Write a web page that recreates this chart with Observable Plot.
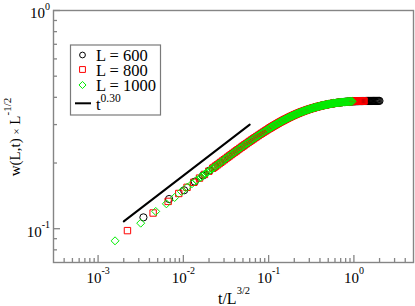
<!DOCTYPE html>
<html><head><meta charset="utf-8">
<script src="https://cdn.jsdelivr.net/npm/d3@7"></script>
<script src="https://cdn.jsdelivr.net/npm/@observablehq/plot@0.6"></script>
<style>body{margin:0;background:#fff}</style>
</head><body><div id="chart"></div><script>
// ---------------- data ----------------
const sizes = [600, 800, 1000];
const seriesLabels = ["L = 600", "L = 800", "L = 1000"];

// early (well separated) points of each system size: t/L^{3/2} and w(L,t) L^{-1/2}
const early600X = [0.003402, 0.006804, 0.010206, 0.013608, 0.01701, 0.02041, 0.02381, 0.02722, 0.03062, 0.03402];
const early600Y = [0.1127, 0.1368, 0.15, 0.1643, 0.1753, 0.1849, 0.1933, 0.2009, 0.2079, 0.2143];
const early800X = [0.00221, 0.00442, 0.00663, 0.00884, 0.01105, 0.01326, 0.01547, 0.01768, 0.01989, 0.0221];
const early800Y = [0.098, 0.118, 0.1334, 0.145, 0.1547, 0.1632, 0.1706, 0.1773, 0.1835, 0.1892];
const early1000X = [0.001581, 0.003162, 0.004743, 0.006325, 0.007906, 0.009487, 0.011068, 0.012649, 0.01423, 0.015811];
const early1000Y = [0.088, 0.106, 0.12, 0.13, 0.139, 0.1481, 0.1548, 0.1609, 0.1665, 0.1717];

// dense part: all sizes lie on one collapsed band (read along the band)
const collapseX = [
  0.016596, 0.017378, 0.018197, 0.019055, 0.019953, 0.020893, 0.021878, 0.022909, 0.023988, 0.025119,
  0.026303, 0.027542, 0.02884, 0.0302, 0.031623, 0.033113, 0.034674, 0.036308, 0.038019, 0.039811,
  0.041687, 0.043652, 0.045709, 0.047863, 0.050119, 0.052481, 0.054954, 0.057544, 0.060256, 0.063096,
  0.066069, 0.069183, 0.072444, 0.075858, 0.079433, 0.083176, 0.087096, 0.091201, 0.095499,
  0.1, 0.10233, 0.10471, 0.10715, 0.10965, 0.1122, 0.11482, 0.11749, 0.12023, 0.12303,
  0.12589, 0.12882, 0.13183, 0.1349, 0.13804, 0.14125, 0.14454, 0.14791, 0.15136, 0.15488,
  0.15849, 0.16218, 0.16596, 0.16982, 0.17378, 0.17783, 0.18197, 0.18621, 0.19055, 0.19498,
  0.19953, 0.20417, 0.20893, 0.2138, 0.21878, 0.22387, 0.22909, 0.23442, 0.23988, 0.24547,
  0.25119, 0.25704, 0.26303, 0.26915, 0.27542, 0.28184, 0.2884, 0.29512, 0.302, 0.30903,
  0.31623, 0.32359, 0.33113, 0.33884, 0.34674, 0.35481, 0.36308, 0.37154, 0.38019, 0.38905,
  0.39811, 0.40738, 0.41687, 0.42658, 0.43652, 0.44668, 0.45709, 0.46774, 0.47863, 0.48978,
  0.50119, 0.51286, 0.52481, 0.53703, 0.54954, 0.56234, 0.57544, 0.58884, 0.60256, 0.6166,
  0.63096, 0.64565, 0.66069, 0.67608, 0.69183, 0.70795, 0.72444, 0.74131, 0.75858, 0.77625,
  0.79433, 0.81283, 0.83176, 0.85114, 0.87096, 0.89125, 0.91201, 0.93325, 0.95499, 0.97724,
  1, 1.0233, 1.0471, 1.0715, 1.0965, 1.122, 1.1482, 1.1749, 1.2023, 1.2303,
  1.2589, 1.2882, 1.3183, 1.349, 1.3804, 1.4125, 1.4454, 1.4791, 1.5136, 1.5488,
  1.5849, 1.6218, 1.6596, 1.6982, 1.7378, 1.7783, 1.8197, 1.8621, 1.9055, 1.9498,
  1.9953
];
const collapseY = [
  0.1741, 0.17644, 0.17881, 0.18122, 0.18365, 0.18612, 0.18862, 0.19116, 0.19373, 0.19633,
  0.19897, 0.20164, 0.20435, 0.2071, 0.20988, 0.21271, 0.21556, 0.21842, 0.22132, 0.22423,
  0.22718, 0.23015, 0.23314, 0.23617, 0.23922, 0.24229, 0.2454, 0.24852, 0.25166, 0.25481,
  0.25797, 0.26115, 0.26433, 0.26752, 0.27072, 0.27393, 0.27714, 0.28037, 0.2836,
  0.28683, 0.28844, 0.29005, 0.29165, 0.29325, 0.29485, 0.29643, 0.29801, 0.29959, 0.30115,
  0.30271, 0.30426, 0.30581, 0.30733, 0.30886, 0.31038, 0.31189, 0.3134, 0.31489, 0.31637,
  0.31785, 0.31932, 0.32077, 0.32221, 0.32365, 0.32508, 0.3265, 0.3279, 0.32928, 0.33066,
  0.33201, 0.33335, 0.33467, 0.33597, 0.33726, 0.33853, 0.33978, 0.34102, 0.34224, 0.34344,
  0.34463, 0.3458, 0.34694, 0.34807, 0.34918, 0.35027, 0.35134, 0.35239, 0.35342, 0.35443,
  0.35542, 0.3564, 0.35736, 0.3583, 0.35923, 0.36014, 0.36104, 0.36191, 0.36278, 0.36363,
  0.36446, 0.36528, 0.36607, 0.36685, 0.36762, 0.36836, 0.36909, 0.3698, 0.3705, 0.37118,
  0.37184, 0.37248, 0.37311, 0.37371, 0.3743, 0.37487, 0.37542, 0.37595, 0.37647, 0.37697,
  0.37746, 0.37793, 0.37838, 0.37882, 0.37924, 0.37964, 0.38002, 0.38039, 0.38074, 0.38107,
  0.38139, 0.38169, 0.38197, 0.38223, 0.38248, 0.38271, 0.38292, 0.38312, 0.38329, 0.38345,
  0.38359, 0.38372, 0.38385, 0.38397, 0.38408, 0.38419, 0.38429, 0.38439, 0.38448, 0.38457,
  0.38465, 0.38473, 0.3848, 0.38487, 0.38493, 0.38498, 0.38503, 0.38508, 0.38512, 0.38515,
  0.38518, 0.3852, 0.38522, 0.38524, 0.38525, 0.38525, 0.38525, 0.38525, 0.38525, 0.38525,
  0.38525
];
// extent along the band covered by each size (first and last t/L^{3/2})
const collapseFrom = [0.036308, 0.022909, 0.016596];
const collapseTo = [1.9953, 1.3183, 0.95499];

// reference power law t^0.30
const fitX = [0.002, 0.06];
const fitY = [0.108, 0.3];
const fitLabel = "t";
const fitExponent = "0.30";

// axis ticks
const majorX = [1e-3, 1e-2, 1e-1, 1];
const majorY = [0.1, 1];

// ---------------- styling ----------------
const serif = "'Liberation Serif', 'Times New Roman', serif";
const axisGray = "#858585";
const seriesStyle = [
  {symbol: "circle", color: "#000000", d3sym: d3.symbolCircle, legendSize: 26},
  {symbol: "square", color: "#ff0000", d3sym: d3.symbolSquare, legendSize: 34},
  {symbol: "diamond2", color: "#00ee00", d3sym: d3.symbolDiamond2, legendSize: 32}
];

if (collapseX.length !== collapseY.length) throw new Error("collapse length mismatch " + collapseX.length + " " + collapseY.length);

const earlyX = [early600X, early800X, early1000X];
const earlyY = [early600Y, early800Y, early1000Y];
const seriesRows = sizes.map((L, i) => {
  const rows = earlyX[i].map((x, j) => ({x, y: earlyY[i][j], L}));
  collapseX.forEach((x, j) => {
    if (x >= collapseFrom[i] * 0.999 && x <= collapseTo[i] * 1.001) rows.push({x, y: collapseY[j], L});
  });
  return rows;
});
const fitRows = fitX.map((x, i) => ({x, y: fitY[i]}));

const minorX = d3.range(-4, 1).flatMap(e => d3.range(2, 10).map(m => m * Math.pow(10, e))).filter(v => v > 3.05e-4 && v < 4.9);
const minorY = d3.range(-2, 0).flatMap(e => d3.range(2, 10).map(m => m * Math.pow(10, e))).filter(v => v > 0.0705 && v < 0.99);

const width = 415, height = 306;
const margin = {top: 10, right: 2, bottom: 44, left: 53};

const expFmt = d => "10^" + Math.round(Math.log10(d));

const svg = Plot.plot({
  width, height,
  marginTop: margin.top, marginRight: margin.right, marginBottom: margin.bottom, marginLeft: margin.left,
  style: {fontFamily: serif, fontSize: "15px", background: "#fff", color: "#000", overflow: "visible"},
  x: {type: "log", domain: [3e-4, 5]},
  y: {type: "log", domain: [0.07, 1]},
  marks: [
    Plot.line(fitRows, {x: "x", y: "y", stroke: "#000", strokeWidth: 2}),
    ...seriesRows.map((rows, i) => Plot.dot(rows, {
      x: "x", y: "y", symbol: seriesStyle[i].symbol, stroke: seriesStyle[i].color,
      fill: "none", r: 3.6, strokeWidth: 1
    })),
    Plot.axisX(minorX, {anchor: "bottom", tickSize: -4, stroke: axisGray, strokeWidth: 1.3, tickFormat: () => "", label: null}),
    Plot.axisX(majorX, {anchor: "bottom", tickSize: -7, stroke: axisGray, strokeWidth: 1.3, tickFormat: () => "", label: null}),
    Plot.axisX(majorX, {anchor: "bottom", tickSize: 0, tickPadding: 10, fill: "#000", tickFormat: expFmt, label: null}),
    Plot.axisY(minorY, {anchor: "left", tickSize: -4, stroke: axisGray, strokeWidth: 1.3, tickFormat: () => "", label: null}),
    Plot.axisY(majorY, {anchor: "left", tickSize: -7, stroke: axisGray, strokeWidth: 1.3, tickFormat: () => "", label: null}),
    Plot.axisY(majorY, {anchor: "left", tickSize: 0, tickPadding: 3.5, dy: 3, fill: "#000", tickFormat: expFmt, label: null}),
    Plot.frame({stroke: axisGray, strokeWidth: 1.4})
  ]
});

const root = d3.select(svg);

// superscript tick labels 10^n
function supify(sel, supSize, supDy) {
  sel.each(function() {
    const txt = this.textContent;
    if (!txt || txt.indexOf("^") < 0) return;
    const [base, exp] = txt.split("^");
    const t = d3.select(this);
    t.text(null);
    t.append("tspan").text(base);
    t.append("tspan").attr("font-size", supSize).attr("dy", supDy).text(exp);
  });
}
supify(root.selectAll("g[aria-label='x-axis tick label'] text"), "10px", -9);
supify(root.selectAll("g[aria-label='y-axis tick label'] text"), "10px", -8.5);

// axis titles
const frameCx = margin.left + (width - margin.left - margin.right) / 2;
const frameCy = margin.top + (height - margin.top - margin.bottom) / 2;
const xt = root.append("text")
  .attr("transform", `translate(${frameCx + 1},${height - 2})`)
  .attr("text-anchor", "middle").attr("font-family", serif).attr("font-size", "16px").attr("fill", "#000");
xt.append("tspan").text("t/L");
xt.append("tspan").attr("font-size", "10.5px").attr("dy", -10).text("3/2");

const yt = root.append("text")
  .attr("transform", `translate(20,${frameCy + 1}) rotate(-90)`)
  .attr("text-anchor", "middle").attr("font-family", serif).attr("font-size", "15px").attr("fill", "#000");
yt.append("tspan").text("w(L,t) ");
yt.append("tspan").attr("font-size", "11px").text("×");
yt.append("tspan").text(" L");
yt.append("tspan").attr("font-size", "11px").attr("dy", -9).text("-1/2");

// legend inside the frame
const lg = root.append("g").attr("transform", `translate(${margin.left + 17.5},${margin.top + 35})`)
  .attr("font-family", serif).attr("text-anchor", "start");
lg.append("rect").attr("x", 0).attr("y", 0).attr("width", 90).attr("height", 70)
  .attr("fill", "#fff").attr("stroke", "#7a7a7a").attr("stroke-width", 1.2);
const rowY = [10, 24.5, 40];
seriesLabels.forEach((lab, i) => {
  const s = seriesStyle[i];
  lg.append("path").attr("d", d3.symbol(s.d3sym, s.legendSize)())
    .attr("transform", `translate(12,${rowY[i]})`)
    .attr("fill", "none").attr("stroke", s.color).attr("stroke-width", 1);
  lg.append("text").attr("x", 25.5).attr("y", rowY[i] + 6).attr("text-anchor", "start")
    .attr("font-size", "16.5px").attr("fill", "#000").text(lab);
});
lg.append("line").attr("x1", 4.5).attr("x2", 20.5).attr("y1", 58.3).attr("y2", 58.3).attr("stroke", "#000").attr("stroke-width", 2);
const lt = lg.append("text").attr("x", 25.5).attr("y", 65).attr("text-anchor", "start")
  .attr("font-size", "16.5px").attr("fill", "#000");
lt.append("tspan").text(fitLabel);
lt.append("tspan").attr("font-size", "11.5px").attr("dy", -8).text(fitExponent);

document.getElementById("chart").appendChild(svg);
</script></body></html>
